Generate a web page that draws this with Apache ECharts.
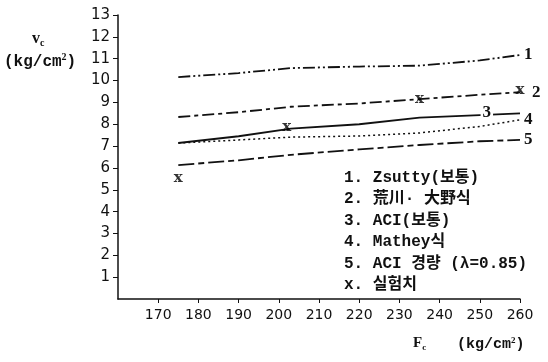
<!DOCTYPE html>
<html>
<head>
<meta charset="utf-8">
<script src="https://cdn.jsdelivr.net/npm/echarts@6/dist/echarts.min.js"></script>
<style>
html,body{margin:0;padding:0;background:#fff;}
#chart{width:548px;height:362px;}
</style>
</head>
<body>
<div id="chart"></div>
<script>
// F_c 값 (kg/cm2)
var xs = [175, 190, 203, 220, 235, 250, 260];
// 각 식의 v_c 값
var zsutty    = [10.16, 10.34, 10.57, 10.64, 10.68, 10.92, 11.17];
var arakawa   = [8.33, 8.55, 8.80, 8.95, 9.15, 9.35, 9.47];
var aciNormal = [7.14, 7.45, 7.80, 8.00, 8.30, 8.42, 8.50];
var mathey    = [7.14, 7.28, 7.41, 7.46, 7.60, 7.90, 8.20];
var aciLight  = [6.13, 6.35, 6.60, 6.85, 7.05, 7.22, 7.28];
// 실험치
var expX = [175, 202, 235, 260];
var expY = [5.55, 7.87, 9.15, 9.55];

var xTicks = [160, 170, 180, 190, 200, 210, 220, 230, 240, 250, 260];
var yTicks = [0, 1, 2, 3, 4, 5, 6, 7, 8, 9, 10, 11, 12, 13];
var lineNames = ['1', '2', '3', '4', '5'];
var legendLines = [
  '1. Zsutty(보통)',
  '2. 荒川· 大野식',
  '3. ACI(보통)',
  '4. Mathey식',
  '5. ACI 경량 (λ=0.85)',
  'x. 실험치'
];

var monoFont = '"Liberation Mono", "Noto Sans CJK KR", monospace';
var serifFont = '"Liberation Serif", "Noto Sans CJK KR", serif';

function pairs(ys){
  return xs.map(function(x, i){ return [x, ys[i]]; });
}

var endLabel = function(txt, off){
  return {
    show: true,
    formatter: txt,
    color: '#111',
    fontFamily: serifFont,
    fontWeight: 'bold',
    fontSize: 17,
    distance: 4,
    offset: off || [0, 0]
  };
};

var line3 = pairs(aciNormal);
line3[5] = {
  value: line3[5],
  label: {
    show: true,
    formatter: '3',
    position: 'inside',
    offset: [7, -2],
    color: '#111',
    fontFamily: serifFont,
    fontWeight: 'bold',
    fontSize: 17,
    backgroundColor: '#fff',
    padding: [0, 2]
  }
};

var legendGraphics = legendLines.map(function(t, i){
  return {
    type: 'text',
    left: 344,
    top: 170 + i * 21.4,
    style: {
      text: t,
      fill: '#111',
      font: 'bold 16px ' + monoFont
    }
  };
});

var chart = echarts.init(document.getElementById('chart'));
var option = {
  backgroundColor: '#fff',
  animation: false,
  grid: {
    left: 118,
    right: 28,
    top: 15,
    bottom: 63
  },
  xAxis: {
    type: 'value',
    min: xTicks[0],
    max: xTicks[xTicks.length - 1],
    interval: 10,
    splitLine: { show: false },
    axisLine: { lineStyle: { color: '#111', width: 1.5 } },
    axisTick: { show: true, length: 4, lineStyle: { color: '#111' } },
    axisLabel: {
      showMinLabel: false,
      margin: 9,
      color: '#111',
      fontFamily: '"DejaVu Sans", sans-serif',
      fontSize: 14
    }
  },
  yAxis: {
    type: 'value',
    min: yTicks[0],
    max: yTicks[yTicks.length - 1],
    interval: 1,
    splitLine: { show: false },
    axisLine: { show: true, lineStyle: { color: '#111', width: 1.5 } },
    axisTick: { show: true, length: 5, lineStyle: { color: '#111' } },
    axisLabel: {
      showMinLabel: false,
      margin: 8,
      color: '#111',
      fontFamily: '"DejaVu Sans", sans-serif',
      fontSize: 15
    }
  },
  graphic: [
    {
      type: 'text',
      left: 32,
      top: 31,
      style: {
        rich: {
          v: { font: 'bold 16px ' + serifFont, fill: '#111' },
          s: { font: 'bold 10px ' + serifFont, fill: '#111', padding: [8, 0, 0, 0] }
        },
        text: '{v|v}{s|c}'
      }
    },
    {
      type: 'text',
      left: 4,
      top: 52,
      style: {
        rich: {
          n: { font: 'bold 16px ' + monoFont, fill: '#111' },
          p: { font: 'bold 10px ' + serifFont, fill: '#111', padding: [0, 0, 9, 0] }
        },
        text: '{n|(kg/cm}{p|2}{n|)}'
      }
    },
    {
      type: 'text',
      left: 413,
      top: 336,
      style: {
        rich: {
          n: { font: 'bold 15px ' + serifFont, fill: '#111' },
          s: { font: 'bold 9px ' + serifFont, fill: '#111', padding: [8, 0, 0, 0] }
        },
        text: '{n|F}{s|c}'
      }
    },
    {
      type: 'text',
      left: 457,
      top: 336,
      style: {
        rich: {
          n: { font: 'bold 15px ' + monoFont, fill: '#111' },
          p: { font: 'bold 9px ' + serifFont, fill: '#111', padding: [0, 0, 8, 0] }
        },
        text: '{n|(kg/cm}{p|2}{n|)}'
      }
    }
  ].concat(legendGraphics),
  series: [
    {
      name: lineNames[0],
      type: 'line',
      symbol: 'none',
      data: pairs(zsutty),
      lineStyle: { color: '#111', width: 1.8, type: [12, 3, 2, 3, 2, 3] },
      endLabel: endLabel(lineNames[0])
    },
    {
      name: lineNames[1],
      type: 'line',
      symbol: 'none',
      data: pairs(arakawa),
      lineStyle: { color: '#111', width: 1.8, type: [12, 4, 4, 4] },
      endLabel: endLabel(lineNames[1], [8, 0])
    },
    {
      name: lineNames[2],
      type: 'line',
      symbol: 'circle',
      symbolSize: 0,
      showAllSymbol: true,
      itemStyle: { color: '#111' },
      data: line3,
      lineStyle: { color: '#111', width: 1.8 },
      z: 3
    },
    {
      name: lineNames[3],
      type: 'line',
      symbol: 'none',
      data: pairs(mathey),
      lineStyle: { color: '#111', width: 1.5, type: [2, 3] },
      endLabel: endLabel(lineNames[3])
    },
    {
      name: lineNames[4],
      type: 'line',
      symbol: 'none',
      data: pairs(aciLight),
      lineStyle: { color: '#111', width: 1.8, type: [16, 4, 6, 4] },
      endLabel: endLabel(lineNames[4])
    },
    {
      name: 'x',
      type: 'scatter',
      symbolSize: 1,
      itemStyle: { color: 'rgba(0,0,0,0)' },
      data: expX.map(function(x, i){ return [x, expY[i]]; }),
      label: {
        show: true,
        position: 'inside',
        formatter: 'x',
        color: '#000',
        fontFamily: '"DejaVu Serif", serif',
        fontWeight: 'bold',
        fontSize: 15
      },
      z: 5
    }
  ]
};
chart.setOption(option);
</script>
</body>
</html>
